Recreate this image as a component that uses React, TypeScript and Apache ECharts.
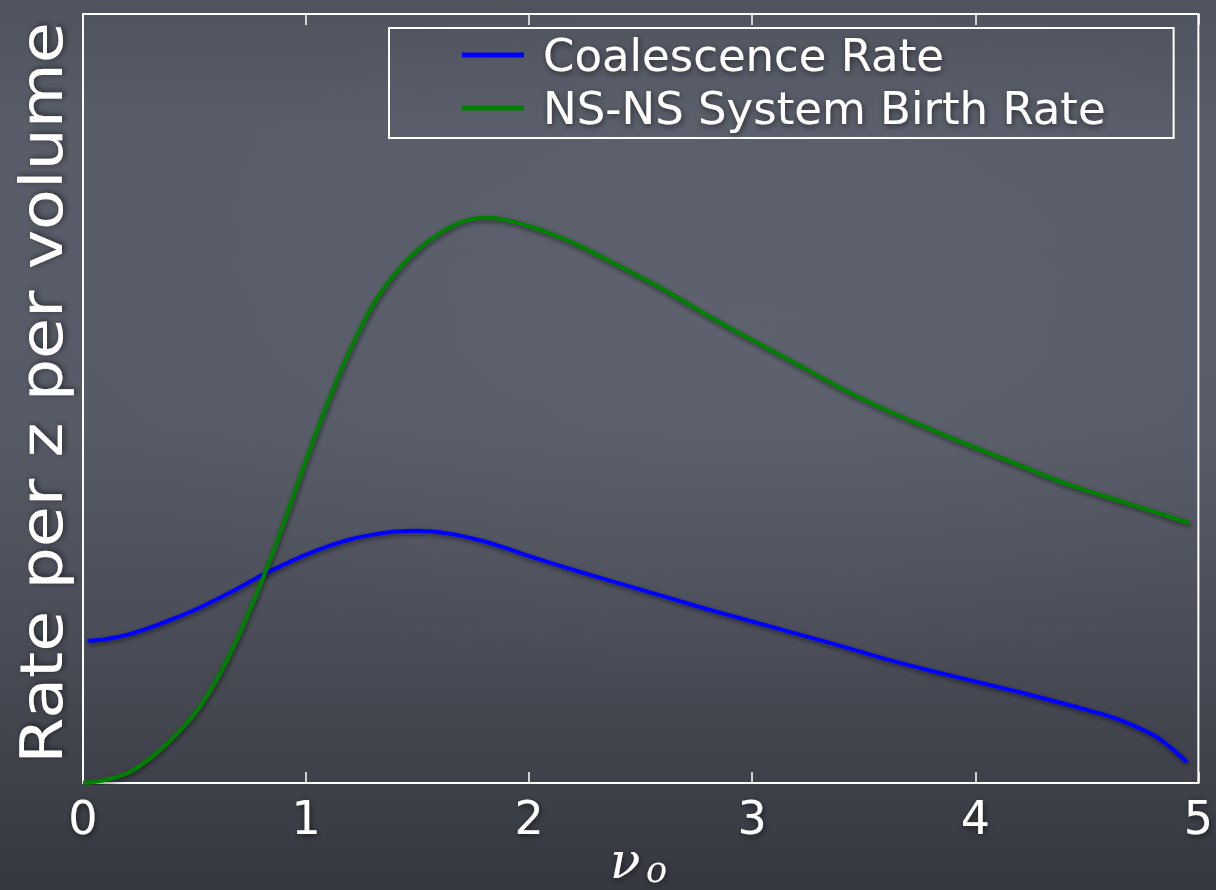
import React, { useEffect, useRef } from "react";
import * as echarts from "echarts";

// Frequency axis (nu_o) sample points and the two rate curves (arbitrary units)
const birthX = [0.0, 0.1, 0.2, 0.3, 0.4, 0.5, 0.6, 0.7, 0.8, 0.9, 1.0, 1.1, 1.2, 1.3, 1.4, 1.5, 1.6, 1.7, 1.8, 1.9, 2.0, 2.1, 2.2, 2.4, 2.6, 2.8, 3.0, 3.2, 3.4, 3.6, 3.8, 4.0, 4.2, 4.4, 4.6, 4.8, 4.96];
const birthRate = [0.0, 0.04, 0.13, 0.32, 0.58, 0.9, 1.35, 1.93, 2.62, 3.38, 4.2, 4.97, 5.65, 6.22, 6.63, 6.93, 7.15, 7.3, 7.35, 7.32, 7.24, 7.14, 7.02, 6.73, 6.42, 6.08, 5.76, 5.45, 5.13, 4.85, 4.6, 4.36, 4.13, 3.9, 3.71, 3.53, 3.38];

const coalX = [0.02, 0.1, 0.2, 0.3, 0.4, 0.5, 0.6, 0.7, 0.8, 0.9, 1.0, 1.1, 1.2, 1.3, 1.4, 1.5, 1.6, 1.7, 1.8, 1.9, 2.0, 2.2, 2.4, 2.6, 2.8, 3.0, 3.2, 3.4, 3.6, 3.8, 4.0, 4.2, 4.4, 4.5, 4.6, 4.7, 4.8, 4.85, 4.9, 4.95];
const coalRate = [1.85, 1.87, 1.93, 2.02, 2.13, 2.25, 2.39, 2.54, 2.7, 2.84, 2.97, 3.08, 3.17, 3.23, 3.27, 3.28, 3.26, 3.21, 3.14, 3.05, 2.95, 2.77, 2.6, 2.43, 2.26, 2.1, 1.94, 1.78, 1.61, 1.46, 1.32, 1.18, 1.03, 0.95, 0.87, 0.76, 0.62, 0.52, 0.4, 0.27];

const xTicks = [0, 1, 2, 3, 4, 5];
const seriesNames = ["Coalescence Rate", "NS-NS System Birth Rate"];
const yLabel = "Rate per z per volume";

const textShadow = {
  textShadowColor: "rgba(0,0,0,0.55)",
  textShadowBlur: 6,
  textShadowOffsetX: 1,
  textShadowOffsetY: 2,
};

export default function App() {
  const ref = useRef<HTMLDivElement>(null);

  useEffect(() => {
    if (!ref.current) return;
    const chart = echarts.init(ref.current, undefined, { renderer: "svg" });
    const lineShadow = {
      shadowColor: "rgba(0,0,0,0.55)",
      shadowBlur: 5,
      shadowOffsetX: 1,
      shadowOffsetY: 2,
    };
    const xMin = xTicks[0];
    const xMax = xTicks[xTicks.length - 1];
    const tickStyle = {
      show: true,
      inside: true,
      length: 11,
      lineStyle: { color: "#ffffff", width: 1.5 },
    };
    chart.setOption({
      animation: false,
      backgroundColor: "transparent",
      grid: {
        left: 83,
        top: 14,
        right: 15,
        bottom: 107,
        show: true,
        borderColor: "#ffffff",
        borderWidth: 2,
        backgroundColor: "transparent",
      },
      legend: {
        orient: "vertical",
        left: 389,
        top: 28,
        padding: [4, 68, 7, 73],
        borderColor: "#ffffff",
        borderWidth: 2,
        itemWidth: 62,
        itemHeight: 5,
        itemGap: 7,
        icon: "rect",
        data: seriesNames,
        textStyle: {
          color: "#ffffff",
          fontFamily: "DejaVu Sans",
          fontSize: 45,
          lineHeight: 46,
          padding: [0, 0, 0, 14],
          ...textShadow,
        },
      },
      xAxis: [
        {
          type: "value",
          min: xMin,
          max: xMax,
          interval: 1,
          position: "bottom",
          axisLine: { show: false },
          splitLine: { show: false },
          axisTick: tickStyle,
          axisLabel: {
            color: "#ffffff",
            fontFamily: "DejaVu Sans",
            fontSize: 46,
            margin: 12,
            ...textShadow,
          },
        },
        {
          type: "value",
          min: xMin,
          max: xMax,
          interval: 1,
          position: "top",
          axisLine: { show: false },
          splitLine: { show: false },
          axisLabel: { show: false },
          axisTick: tickStyle,
        },
      ],
      yAxis: {
        type: "value",
        min: 0,
        max: 10,
        axisLine: { show: false },
        axisTick: { show: false },
        axisLabel: { show: false },
        splitLine: { show: false },
      },
      series: [
        {
          name: seriesNames[0],
          type: "line",
          smooth: 0.3,
          showSymbol: false,
          color: "#0000ff",
          lineStyle: { color: "#0000ff", width: 4, ...lineShadow },
          data: coalX.map((x, i) => [x, coalRate[i]]),
          z: 3,
        },
        {
          name: seriesNames[1],
          type: "line",
          smooth: 0.3,
          showSymbol: false,
          color: "#008000",
          lineStyle: { color: "#008000", width: 4, ...lineShadow },
          data: birthX.map((x, i) => [x, birthRate[i]]),
          z: 4,
        },
      ],
      graphic: [
        {
          type: "text",
          x: 42,
          y: 393,
          rotation: Math.PI / 2,
          scaleX: 1.15,
          style: {
            text: yLabel,
            fill: "#ffffff",
            font: '58px "DejaVu Sans"',
            align: "center",
            verticalAlign: "middle",
            ...textShadow,
          },
        },
        {
          type: "text",
          x: 610,
          y: 861,
          style: {
            text: "ν",
            fill: "#ffffff",
            font: 'italic 50px "DejaVu Serif"',
            align: "left",
            verticalAlign: "middle",
            ...textShadow,
          },
        },
        {
          type: "text",
          x: 646,
          y: 870,
          style: {
            text: "o",
            fill: "#ffffff",
            font: 'italic 35px "DejaVu Serif"',
            align: "left",
            verticalAlign: "middle",
            ...textShadow,
          },
        },
      ],
    });
    return () => chart.dispose();
  }, []);

  return (
    <div
      style={{
        position: "fixed",
        left: 0,
        top: 0,
        width: 1216,
        height: 890,
        background:
          "radial-gradient(ellipse 55% 40% at 62% 38%, rgba(105,110,122,0.35) 0%, rgba(105,110,122,0) 100%), linear-gradient(180deg, #4f535e 0%, #595d69 14%, #575b67 48%, #4a4d57 72%, #3e4149 88%, #353840 100%)",
      }}
    >
      <div ref={ref} style={{ width: 1216, height: 890 }} />
    </div>
  );
}
